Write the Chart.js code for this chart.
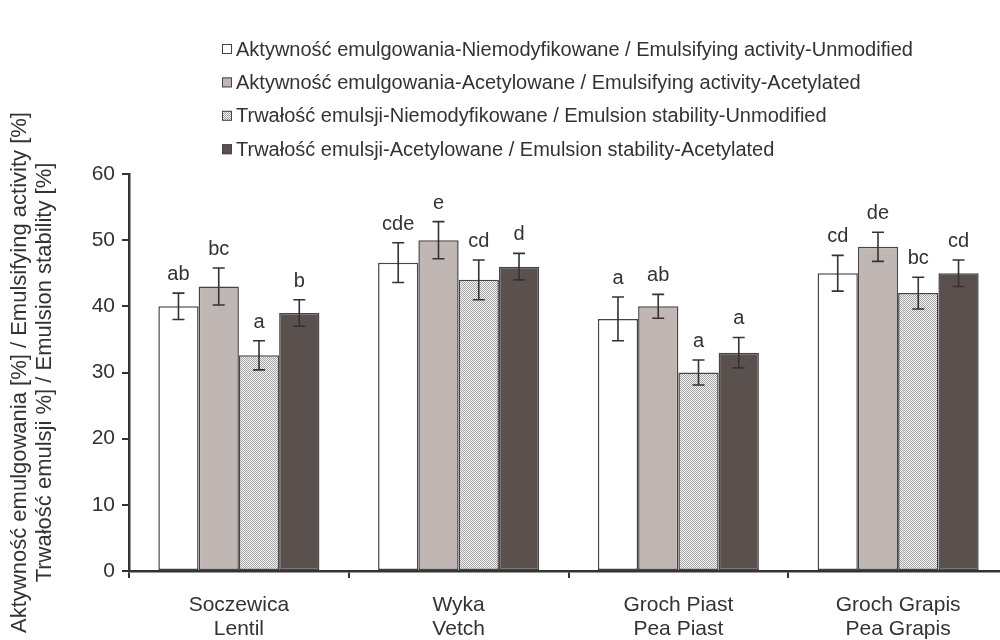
<!DOCTYPE html>
<html>
<head>
<meta charset="utf-8">
<script src="https://cdn.jsdelivr.net/npm/chart.js@4/dist/chart.umd.min.js"></script>
<style>
  html, body { margin: 0; padding: 0; background: #fff; overflow: hidden; }
  #wrap { width: 1010px; height: 640px; }
</style>
</head>
<body>
<div id="wrap"><canvas id="c" width="1010" height="640"></canvas></div>
<script>
// Categories (two-line labels: Polish / English)
const categories = [
  ['Soczewica', 'Lentil'],
  ['Wyka', 'Vetch'],
  ['Groch Piast', 'Pea Piast'],
  ['Groch Grapis', 'Pea Grapis']
];

const seriesNames = [
  'Aktywność emulgowania-Niemodyfikowane / Emulsifying activity-Unmodified',
  'Aktywność emulgowania-Acetylowane / Emulsifying activity-Acetylated',
  'Trwałość emulsji-Niemodyfikowane / Emulsion stability-Unmodified',
  'Trwałość emulsji-Acetylowane / Emulsion stability-Acetylated'
];

// Emulsifying activity, unmodified
const eaUnmod        = [40.0, 46.6, 38.1, 45.0];
const eaUnmodErr     = [2.0, 3.0, 3.3, 2.7];
const eaUnmodLetters = ['ab', 'cde', 'a', 'cd'];

// Emulsifying activity, acetylated
const eaAcet        = [43.0, 50.0, 40.0, 49.0];
const eaAcetErr     = [2.8, 2.8, 1.8, 2.2];
const eaAcetLetters = ['bc', 'e', 'ab', 'de'];

// Emulsion stability, unmodified
const esUnmod        = [32.6, 44.0, 30.0, 42.0];
const esUnmodErr     = [2.2, 3.0, 1.9, 2.4];
const esUnmodLetters = ['a', 'cd', 'a', 'bc'];

// Emulsion stability, acetylated
const esAcet        = [39.0, 46.0, 33.0, 45.0];
const esAcetErr     = [2.0, 2.0, 2.3, 2.0];
const esAcetLetters = ['b', 'd', 'a', 'cd'];

const yTicks = [0, 10, 20, 30, 40, 50, 60];

const yTitle = [
  'Aktywność emulgowania [%] / Emulsifying activity [%]',
  'Trwałość emulsji %] / Emulsion stability [%]'
];

const FONT = '"Liberation Sans", Arial, Helvetica, sans-serif';
const INK = '#333333';
const EDGE = '#454545';

// fine checker fill for the stippled series
function checkerPattern() {
  const p = document.createElement('canvas');
  p.width = 2; p.height = 2;
  const g = p.getContext('2d');
  g.fillStyle = '#f6f6f6'; g.fillRect(0, 0, 2, 2);
  g.fillStyle = '#a2a2a2'; g.fillRect(0, 0, 1, 1); g.fillRect(1, 1, 1, 1);
  return g.createPattern(p, 'repeat');
}
const ctx = document.getElementById('c').getContext('2d');
const stipple = checkerPattern();

const fills = ['#ffffff', '#c0b6b3', stipple, '#5a504d'];
const values = [eaUnmod, eaAcet, esUnmod, esAcet];
const errors = [eaUnmodErr, eaAcetErr, esUnmodErr, esAcetErr];
const letters = [eaUnmodLetters, eaAcetLetters, esUnmodLetters, esAcetLetters];

const datasets = values.map((v, i) => ({
  label: seriesNames[i],
  data: v,
  backgroundColor: fills[i],
  borderColor: EDGE,
  borderWidth: 1.5,
  borderSkipped: false,
  categoryPercentage: 0.733,
  barPercentage: 1.0,
  errs: errors[i],
  letters: letters[i]
}));

// error bars with significance letters above them
const errorBars = {
  id: 'errorBars',
  afterDatasetsDraw(chart) {
    const c = chart.ctx;
    const y = chart.scales.y;
    c.save();
    chart.data.datasets.forEach((ds, di) => {
      const meta = chart.getDatasetMeta(di);
      meta.data.forEach((bar, i) => {
        const v = ds.data[i], e = ds.errs[i];
        const yTop = y.getPixelForValue(v + e);
        const yBot = y.getPixelForValue(v - e);
        const x = bar.x;
        c.strokeStyle = INK;
        c.lineWidth = 1.6;
        c.beginPath();
        c.moveTo(x, yTop); c.lineTo(x, yBot);
        c.moveTo(x - 6, yTop); c.lineTo(x + 6, yTop);
        c.moveTo(x - 6, yBot); c.lineTo(x + 6, yBot);
        c.stroke();
        c.fillStyle = INK;
        c.font = '20px ' + FONT;
        c.textAlign = 'center';
        c.textBaseline = 'alphabetic';
        c.fillText(ds.letters[i], x, yTop - 13);
      });
    });
    c.restore();
  }
};

// stacked legend above the plot
const stackedLegend = {
  id: 'stackedLegend',
  afterDraw(chart) {
    const c = chart.ctx;
    c.save();
    c.font = '20px ' + FONT;
    c.textBaseline = 'middle';
    c.textAlign = 'left';
    chart.data.datasets.forEach((ds, i) => {
      const cy = 49 + i * 33.4;
      c.fillStyle = ds.backgroundColor;
      c.fillRect(222, cy - 5, 10, 10);
      c.strokeStyle = EDGE;
      c.lineWidth = 1;
      c.strokeRect(222.5, cy - 4.5, 9, 9);
      c.fillStyle = INK;
      c.fillText(ds.label, 236, cy + 1);
    });
    c.restore();
  }
};

new Chart(ctx, {
  type: 'bar',
  data: { labels: categories, datasets },
  plugins: [errorBars, stackedLegend],
  options: {
    responsive: false,
    animation: false,
    devicePixelRatio: 1,
    layout: { padding: { top: 174, right: 2, left: 0, bottom: 0 } },
    plugins: {
      legend: { display: false },
      tooltip: { enabled: false }
    },
    scales: {
      x: {
        type: 'category',
        grid: {
          offset: true,
          drawOnChartArea: false,
          drawTicks: true,
          tickLength: 7,
          color: INK,
          lineWidth: 2
        },
        border: { display: true, color: INK, width: 2.5 },
        ticks: {
          color: INK,
          font: { family: FONT, size: 21, lineHeight: 1.15 },
          padding: 15,
          maxRotation: 0,
          autoSkip: false
        },
        afterFit(s) { s.height = 69; }
      },
      y: {
        min: 0,
        max: 60,
        afterBuildTicks(s) { s.ticks = yTicks.map(v => ({ value: v })); },
        grid: {
          drawOnChartArea: false,
          drawTicks: true,
          tickLength: 7,
          color: INK,
          lineWidth: 2
        },
        border: { display: true, color: INK, width: 2.5 },
        ticks: {
          color: INK,
          font: { family: FONT, size: 21 },
          padding: 7
        },
        title: {
          display: true,
          text: yTitle,
          color: INK,
          font: { family: FONT, size: 22, lineHeight: 1.14 },
          padding: { top: 7.5, bottom: 0 }
        },
        afterFit(s) { s.width = 129; }
      }
    }
  }
});
</script>
</body>
</html>
